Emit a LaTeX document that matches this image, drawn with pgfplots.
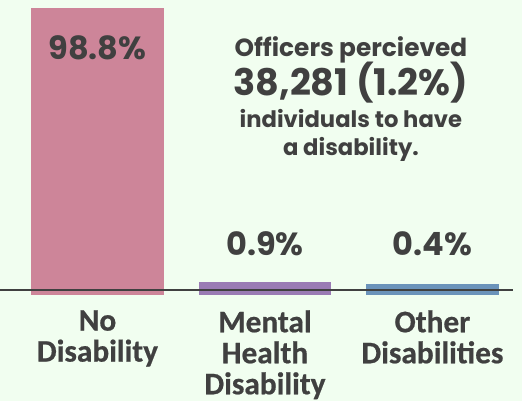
\documentclass[border=0pt]{standalone}
\usepackage{pgfplots}
\pgfplotsset{compat=1.18}
\usepackage{fontspec}
\setmainfont{Poppins}
\newfontfamily\pop{Poppins}
\newfontfamily\carlito[BoldFeatures={FakeBold=0.6}]{Carlito}
\definecolor{bg}{HTML}{F1FEF0}
\definecolor{pinkbar}{HTML}{CD8599}
\definecolor{purplebar}{HTML}{9A7BB4}
\definecolor{bluebar}{HTML}{6B93BA}
\definecolor{txt}{HTML}{404040}
\begin{document}
\begin{tikzpicture}
\useasboundingbox (0,0) rectangle (391.5pt,300.75pt);
\fill[bg] (0,0) rectangle (391.5pt,300.75pt);
\begin{axis}[
  at={(0pt,83.25pt)}, anchor=south west,
  scale only axis,
  width=384.75pt, height=207.45pt,
  xmin=-0.582, xmax=2.481,
  ymin=0, ymax=98.8,
  axis x line*=bottom,
  hide y axis,
  x axis line style={txt, line width=1.5pt, -},
  axis on top,
  xtick={0,1,2},
  xticklabels={No\\Disability, Mental\\Health\\Disability, Other\\Disabilities},
  major tick length=0pt,
  xticklabel style={anchor=north, inner sep=0pt, yshift=-15pt, align=center, text=txt,
    font={\carlito\bfseries\fontsize{23.5}{23.25}\selectfont}},
  ybar, bar width=91.6pt, bar shift=0pt,
  clip=false,
]
\addplot[fill=pinkbar, draw=pinkbar, line width=8pt] coordinates {(0,98.8)};
\addplot[fill=purplebar, draw=purplebar, line width=8pt] coordinates {(1,0.9)};
\addplot[fill=bluebar, draw=bluebar, line width=8pt] coordinates {(2,0.4)};
\begin{scope}[every node/.style={text=txt, anchor=base, inner sep=0pt}]
\node[font={\pop\bfseries\fontsize{24}{26}\selectfont}] at (axis cs:0,82.5) {98.8\%};
\node[font={\pop\bfseries\fontsize{24}{26}\selectfont}] at (axis cs:1,12.5) {0.9\%};
\node[font={\pop\bfseries\fontsize{24}{26}\selectfont}] at (axis cs:2,12.5) {0.4\%};
\node[font={\pop\bfseries\fontsize{18.6}{20}\selectfont}] at (axis cs:1.513,83.3) {Officers percieved};
\node[font={\pop\bfseries\fontsize{27.5}{30}\selectfont}] at (axis cs:1.513,69.3) {38,281 (1.2\%)};
\node[font={\pop\bfseries\fontsize{17}{19}\selectfont}] at (axis cs:1.513,58.0) {individuals to have};
\node[font={\pop\bfseries\fontsize{17}{19}\selectfont}] at (axis cs:1.513,48.0) {a disability.};
\end{scope}
\end{axis}
\end{tikzpicture}
\end{document}
